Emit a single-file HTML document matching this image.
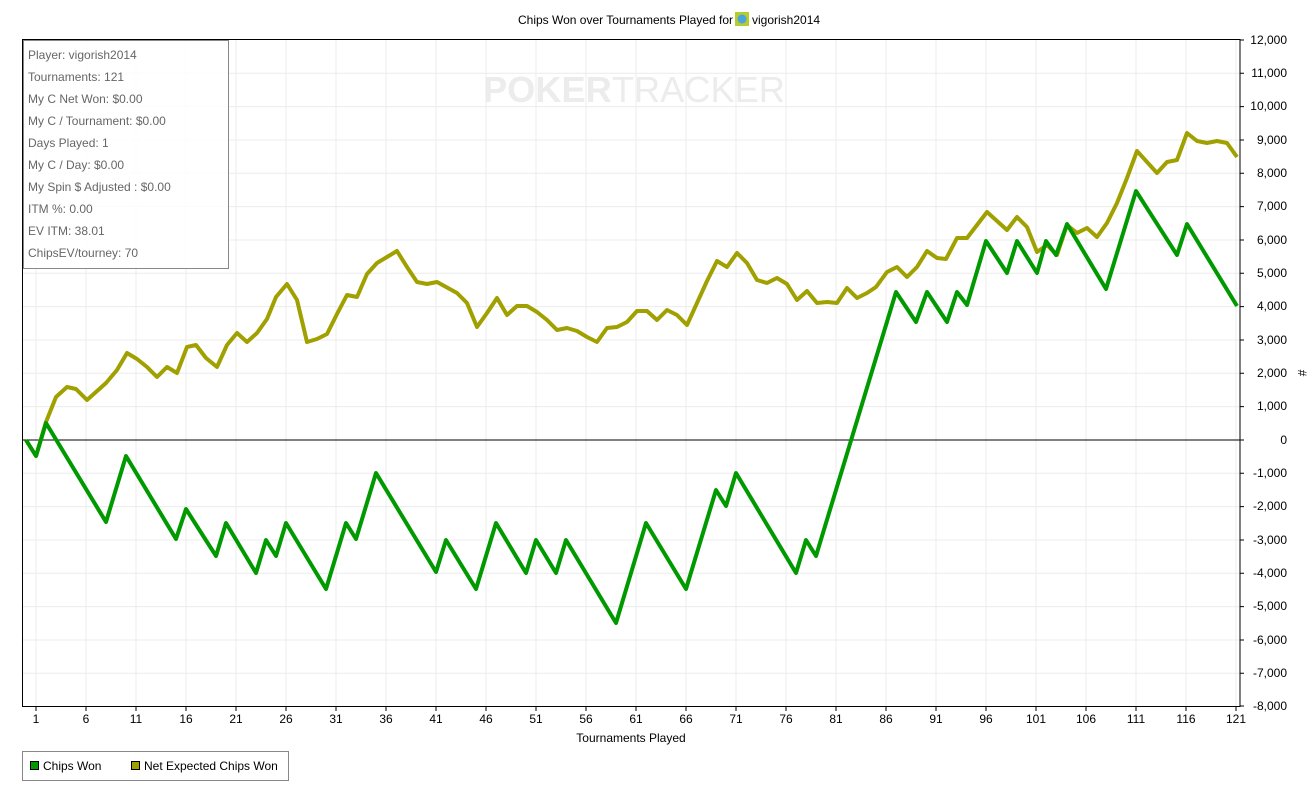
<!DOCTYPE html>
<html><head><meta charset="utf-8"><style>
body{margin:0;background:#fff;}
svg{display:block;font-family:"Liberation Sans",sans-serif;}
</style></head><body>
<svg width="1311" height="801" viewBox="0 0 1311 801" xmlns="http://www.w3.org/2000/svg">
<rect width="1311" height="801" fill="#fff"/>
<text x="733" y="24" font-size="12" text-anchor="end" fill="#000">Chips Won over Tournaments Played for</text>
<rect x="735" y="12" width="14" height="14" fill="#b5cc2e"/><circle cx="742" cy="19" r="4.5" fill="#4aa3df"/>
<text x="752" y="24" font-size="12" fill="#000">vigorish2014</text>
<g stroke="#ececec" stroke-width="1">
<path d="M36 40V706M86 40V706M136 40V706M186 40V706M236 40V706M286 40V706M336 40V706M386 40V706M436 40V706M486 40V706M536 40V706M586 40V706M636 40V706M686 40V706M736 40V706M786 40V706M836 40V706M886 40V706M936 40V706M986 40V706M1036 40V706M1086 40V706M1136 40V706M1186 40V706M1236 40V706"/>
<path d="M22 73.3H1240M22 106.6H1240M22 140H1240M22 173.3H1240M22 206.6H1240M22 240H1240M22 273.3H1240M22 306.6H1240M22 340H1240M22 373.3H1240M22 406.6H1240M22 473.3H1240M22 506.6H1240M22 540H1240M22 573.3H1240M22 606.6H1240M22 640H1240M22 673.3H1240"/>
</g>
<text x="634" y="102" font-size="36" font-weight="bold" text-anchor="middle" fill="#ececec" textLength="302" lengthAdjust="spacingAndGlyphs">POKER<tspan font-weight="normal">TRACKER</tspan></text>
<path d="M22 440H1240" stroke="#000" stroke-width="1"/>
<rect x="22.5" y="39.5" width="1217.5" height="667" fill="none" stroke="#000" stroke-width="1"/>
<g stroke="#000"><path d="M36 707v4M86 707v4M136 707v4M186 707v4M236 707v4M286 707v4M336 707v4M386 707v4M436 707v4M486 707v4M536 707v4M586 707v4M636 707v4M686 707v4M736 707v4M786 707v4M836 707v4M886 707v4M936 707v4M986 707v4M1036 707v4M1086 707v4M1136 707v4M1186 707v4M1236 707v4"/>
<path d="M1240 40h4M1240 73.3h4M1240 106.6h4M1240 140h4M1240 173.3h4M1240 206.6h4M1240 240h4M1240 273.3h4M1240 306.6h4M1240 340h4M1240 373.3h4M1240 406.6h4M1240 440h4M1240 473.3h4M1240 506.6h4M1240 540h4M1240 573.3h4M1240 606.6h4M1240 640h4M1240 673.3h4M1240 706h4"/></g>
<g font-size="12" fill="#000" text-anchor="middle">
<text x="36" y="723">1</text><text x="86" y="723">6</text><text x="136" y="723">11</text><text x="186" y="723">16</text><text x="236" y="723">21</text><text x="286" y="723">26</text><text x="336" y="723">31</text><text x="386" y="723">36</text><text x="436" y="723">41</text><text x="486" y="723">46</text><text x="536" y="723">51</text><text x="586" y="723">56</text><text x="636" y="723">61</text><text x="686" y="723">66</text><text x="736" y="723">71</text><text x="786" y="723">76</text><text x="836" y="723">81</text><text x="886" y="723">86</text><text x="936" y="723">91</text><text x="986" y="723">96</text><text x="1036" y="723">101</text><text x="1086" y="723">106</text><text x="1136" y="723">111</text><text x="1186" y="723">116</text><text x="1236" y="723">121</text>
<text x="631" y="742">Tournaments Played</text>
</g>
<g font-size="12" fill="#000" text-anchor="end">
<text x="1287" y="44">12,000</text><text x="1287" y="77">11,000</text><text x="1287" y="110">10,000</text><text x="1287" y="144">9,000</text><text x="1287" y="177">8,000</text><text x="1287" y="210">7,000</text><text x="1287" y="244">6,000</text><text x="1287" y="277">5,000</text><text x="1287" y="310">4,000</text><text x="1287" y="344">3,000</text><text x="1287" y="377">2,000</text><text x="1287" y="410">1,000</text><text x="1287" y="444">0</text><text x="1287" y="477">-1,000</text><text x="1287" y="510">-2,000</text><text x="1287" y="544">-3,000</text><text x="1287" y="577">-4,000</text><text x="1287" y="610">-5,000</text><text x="1287" y="644">-6,000</text><text x="1287" y="677">-7,000</text><text x="1287" y="710">-8,000</text>
</g>
<text x="1298" y="373" font-size="12" transform="rotate(90 1298 373)" text-anchor="middle">#</text>
<polyline fill="none" stroke="#a0a000" stroke-width="4" stroke-linejoin="round" points="26,440 36,456 46,422 56,397 67,387 76,389 87,400 106,383 117,370 127,353 137,359 147,367 157,377 167,367 177,373 187,347 196,345 206,358 217,367 227,345 237,333 247,342 257,333 267,319 276,297 287,284 297,300 307,342 317,339 327,334 337,314 347,295 357,297 367,274 377,263 387,257 397,251 407,267 417,282 427,284 437,282 457,293 467,303 477,327 487,313 497,298 507,315 517,306 527,306 537,312 547,320 557,330 567,328 577,331 587,337 597,342 607,328 617,327 627,322 637,311 647,311 657,320 667,310 677,315 687,325 697,303 707,281 717,261 727,267 737,253 747,263 757,280 767,283 777,278 787,284 797,300 807,291 817,303 827,302 837,303 847,288 857,298 867,293 876,287 887,272 897,267 907,277 917,267 927,251 937,258 946,259 957,238 967,238 977,225 987,212 997,221 1007,230 1017,217 1027,227 1037,252 1047,245 1057,255 1067,225 1077,233 1087,228 1097,237 1107,223 1117,203 1127,178 1137,151 1147,162 1157,173 1167,162 1177,160 1187,133 1197,141 1207,143 1217,141 1227,143 1237,157"/>
<polyline fill="none" stroke="#009900" stroke-width="4" stroke-linejoin="round" points="26,440 36,456 46,423 106,522 126,456 176,539 186,509 216,556 226,523 256,573 266,540 276,556 286,523 326,589 346,523 356,539 376,473 436,572 446,540 476,589 496,523 526,573 536,540 556,573 566,540 616,623 646,523 686,589 716,490 726,506 736,473 796,573 806,540 816,556 896,292 916,322 927,292 947,322 957,292 967,305 986,241 1007,273 1017,241 1037,273 1046,241 1056,255 1067,224 1106,289 1136,191 1177,255 1187,224 1237,306"/>
<rect x="23.5" y="40.5" width="205" height="228" fill="#fff" fill-opacity="0.85" stroke="#888"/>
<g font-size="12" fill="#666">
<text x="28" y="59">Player: vigorish2014</text><text x="28" y="81">Tournaments: 121</text><text x="28" y="103">My C Net Won: $0.00</text><text x="28" y="125">My C / Tournament: $0.00</text><text x="28" y="147">Days Played: 1</text><text x="28" y="169">My C / Day: $0.00</text><text x="28" y="191">My Spin $ Adjusted : $0.00</text><text x="28" y="213">ITM %: 0.00</text><text x="28" y="235">EV ITM: 38.01</text><text x="28" y="257">ChipsEV/tourney: 70</text>
</g>
<rect x="22.5" y="751.5" width="266" height="29" fill="#fff" stroke="#888"/>
<rect x="30.5" y="761.5" width="8" height="8" fill="#009900" stroke="#000"/>
<text x="43" y="770" font-size="12">Chips Won</text>
<rect x="131.5" y="761.5" width="8" height="8" fill="#a0a000" stroke="#000"/>
<text x="144" y="770" font-size="12">Net Expected Chips Won</text>
</svg>
</body></html>
